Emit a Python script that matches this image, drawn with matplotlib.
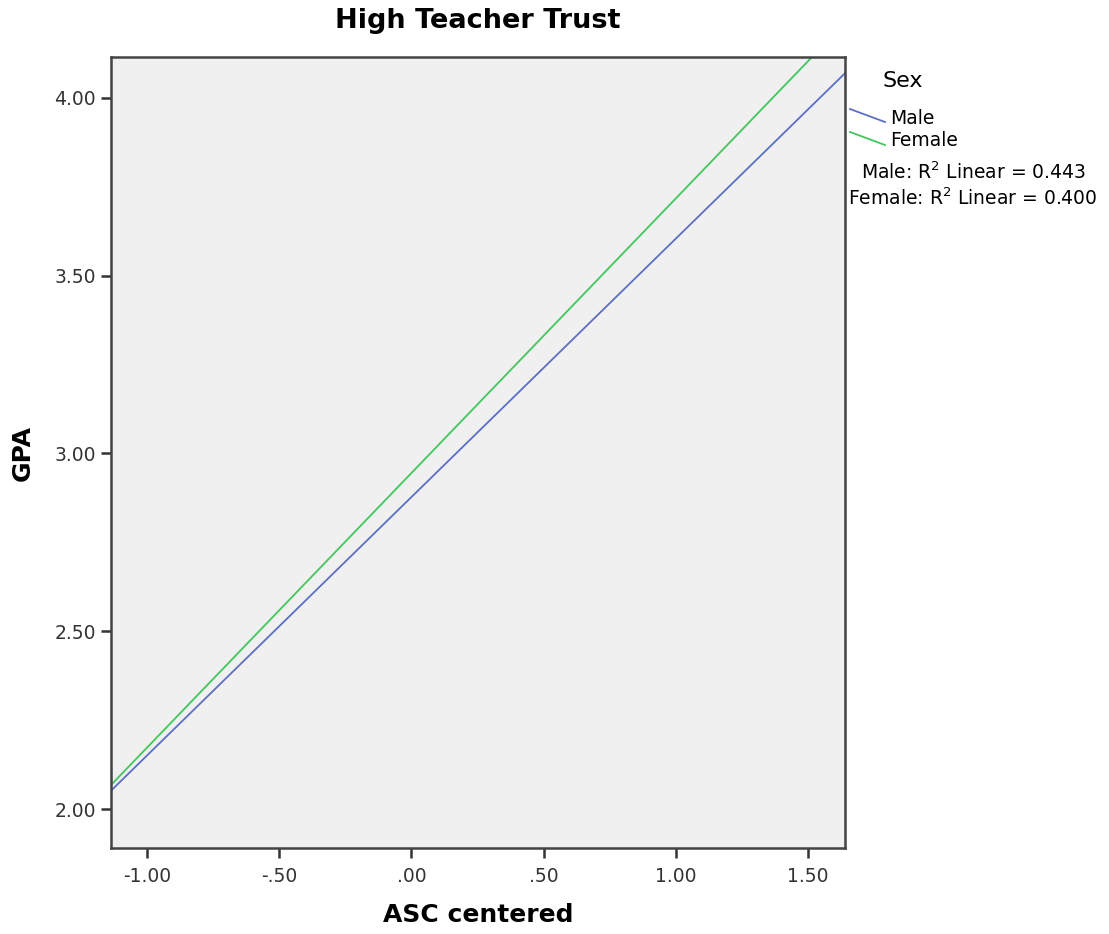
import numpy as np
import matplotlib
matplotlib.use("Agg")
import matplotlib.pyplot as plt
from matplotlib.lines import Line2D

# fit line end points
x_ends = [-1.136, 1.640]
male_y = [2.052, 4.069]
female_y = [2.068, 4.211]

x_ticks = [-1.0, -0.5, 0.0, 0.5, 1.0, 1.5]
x_labels = ["-1.00", "-.50", ".00", ".50", "1.00", "1.50"]
y_ticks = [2.0, 2.5, 3.0, 3.5, 4.0]
y_labels = ["2.00", "2.50", "3.00", "3.50", "4.00"]

groups = ["Male", "Female"]
r2 = [0.443, 0.400]
colors = ["#5b6fc6", "#41c75d"]

fig = plt.figure(figsize=(11.09, 9.34), dpi=100)
ax = fig.add_axes([0.1001, 0.0921, 0.662, 0.8468])
ax.set_facecolor("#f0f0f0")

ax.plot(x_ends, male_y, color=colors[0], lw=1.3)
ax.plot(x_ends, female_y, color=colors[1], lw=1.3)

ax.set_xlim(x_ends[0], x_ends[1])
ax.set_ylim(1.891, 4.114)
ax.set_xticks(x_ticks)
ax.set_xticklabels(x_labels)
ax.set_yticks(y_ticks)
ax.set_yticklabels(y_labels)
ax.tick_params(direction="out", length=7, width=1.8, color="#333333",
               labelsize=13.5, labelcolor="#333333")
ax.tick_params(axis="x", pad=7)
ax.tick_params(axis="y", pad=4)
for s in ax.spines.values():
    s.set_linewidth(1.8)
    s.set_color("#444444")

ax.set_title("High Teacher Trust", fontsize=19.5, fontweight="bold", pad=21)
ax.set_xlabel("ASC centered", fontsize=18, fontweight="bold", labelpad=12)
ax.set_ylabel("GPA", fontsize=18, fontweight="bold", labelpad=14)

# legend drawn by hand outside the axes
def fx(px):
    return px / 1109

def fy(py):
    return 1 - py / 934

fig.text(fx(882), fy(81), "Sex", fontsize=16, va="center", ha="left")
for i, g in enumerate(groups):
    y0 = 109 + i * 23
    fig.add_artist(Line2D([fx(850), fx(885)], [fy(y0), fy(y0 + 13)],
                          color=colors[i], lw=1.3))
    fig.text(fx(890), fy(118 + i * 22), g, fontsize=13.5, va="center", ha="left")
for i, g in enumerate(groups):
    fig.text(fx(973), fy(172 + i * 26),
             "%s: R$^2$ Linear = %.3f" % (g, r2[i]),
             fontsize=13.5, va="center", ha="center")

fig.savefig("out.png", dpi=100)
